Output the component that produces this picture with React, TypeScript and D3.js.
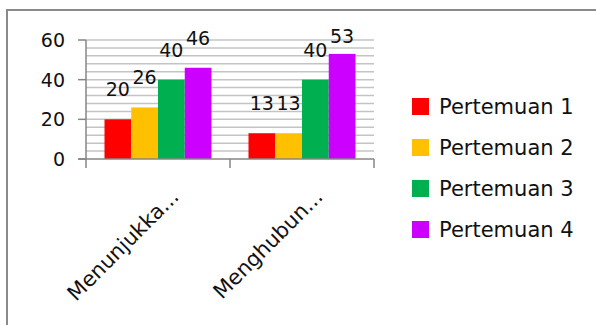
import React from 'react';
import * as d3 from 'd3';

const categories = ['Menunjukka...', 'Menghubun...'];
const seriesNames = ['Pertemuan 1', 'Pertemuan 2', 'Pertemuan 3', 'Pertemuan 4'];
const pertemuan1 = [20, 13];
const pertemuan2 = [26, 13];
const pertemuan3 = [40, 40];
const pertemuan4 = [46, 53];
const yTicks = [0, 20, 40, 60];

const seriesValues = [pertemuan1, pertemuan2, pertemuan3, pertemuan4];
const colors = ['#ff0000', '#ffc000', '#00b050', '#cc00ff'];

const W = 596;
const H = 325;
const left = 86;
const right = 374;
const top = 40;
const bottom = 159;
const font = '"DejaVu Sans", sans-serif';

export default function App() {
  const x0 = d3.scaleBand<string>().domain(categories).range([left, right]);
  const x1 = d3.scaleBand<string>().domain(seriesNames).range([18.5, 125.5]);
  const y = d3.scaleLinear().domain([0, 60]).range([bottom, top]);
  const minor = d3.range(4, 61, 4);

  return (
    <svg width={W} height={H} style={{ position: 'absolute', left: 0, top: 0, background: '#fff' }}>
      <rect x={7} y={10} width={W + 20} height={H + 20} fill="#fff" stroke="#8a8a8a" strokeWidth={2} />

      {/* minor gridlines */}
      {minor.map(v => (
        <line key={v} x1={left} x2={right} y1={y(v)} y2={y(v)} stroke="#c4c4c4" strokeWidth={1.5} />
      ))}

      {/* bars */}
      {categories.map((c, ci) => (
        <g key={c} transform={`translate(${x0(c)},0)`}>
          {seriesNames.map((s, si) => {
            const v = seriesValues[si][ci];
            return (
              <rect key={s} x={x1(s)} y={y(v)} width={x1.bandwidth()} height={y(0) - y(v)} fill={colors[si]} />
            );
          })}
        </g>
      ))}

      {/* axes */}
      <line x1={left} x2={left} y1={top} y2={bottom} stroke="#868686" strokeWidth={1.5} />
      <line x1={left - 8} x2={right} y1={bottom} y2={bottom} stroke="#868686" strokeWidth={1.5} />
      {yTicks.map(t => (
        <g key={t}>
          <line x1={left - 8} x2={left} y1={y(t)} y2={y(t)} stroke="#868686" strokeWidth={1.5} />
          <text x={65} y={y(t)} dy="0.36em" textAnchor="end" fontFamily={font} fontSize={19} fill="#111">{t}</text>
        </g>
      ))}
      {[...categories.map(c => x0(c) as number), right].map((px, i) => (
        <line key={i} x1={px} x2={px} y1={bottom} y2={bottom + 9} stroke="#868686" strokeWidth={1.5} />
      ))}

      {/* data labels */}
      {categories.map((c, ci) => (
        <g key={c} transform={`translate(${x0(c)},0)`}>
          {seriesNames.map((s, si) => {
            const v = seriesValues[si][ci];
            const by = Math.max(y(v) - 23, 43);
            return (
              <text key={s} x={(x1(s) as number) + x1.bandwidth() / 2} y={by} textAnchor="middle"
                fontFamily={font} fontSize={19} fill="#111">{v}</text>
            );
          })}
        </g>
      ))}

      {/* category labels */}
      {categories.map(c => {
        const cx = (x0(c) as number) + x0.bandwidth() / 2 + 22;
        return (
          <text key={c} transform={`translate(${cx},${198}) rotate(-45)`} textAnchor="end"
            fontFamily={font} fontSize={21} fill="#111">{c}</text>
        );
      })}

      {/* legend */}
      {seriesNames.map((s, i) => (
        <g key={s} transform={`translate(412,${106.5 + i * 41})`}>
          <rect x={0} y={-8.5} width={17} height={17} fill={colors[i]} />
          <text x={27} y={0} dy="0.36em" fontFamily={font} fontSize={21} fill="#111">{s}</text>
        </g>
      ))}
    </svg>
  );
}
